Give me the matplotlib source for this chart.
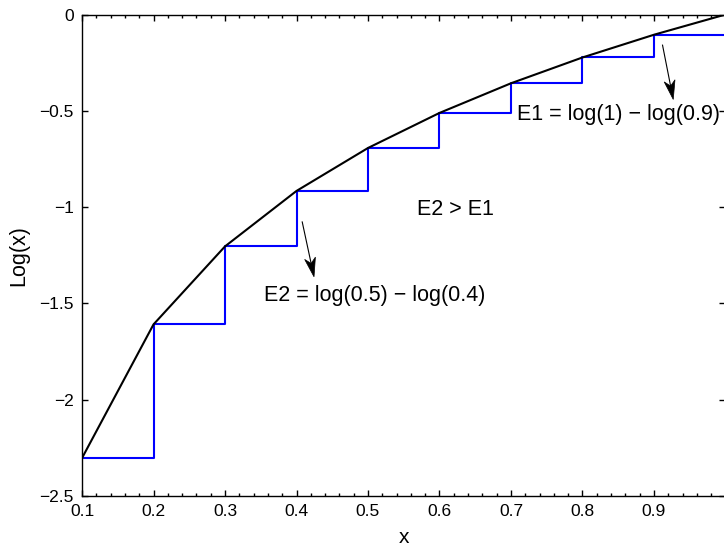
"""Staircase approximation of log(x) with error annotations."""
import matplotlib
matplotlib.use('Agg')
import matplotlib.pyplot as plt
import numpy as np
from matplotlib.patches import Polygon

# values
x_vals = [0.1, 0.2, 0.3, 0.4, 0.5, 0.6, 0.7, 0.8, 0.9, 1.0]
log_vals = [-2.303, -1.609, -1.204, -0.916, -0.693, -0.511, -0.357, -0.223, -0.105, 0.0]

x_ticks = [0.1, 0.2, 0.3, 0.4, 0.5, 0.6, 0.7, 0.8, 0.9, 1.0]
x_tick_labels = ['0.1', '0.2', '0.3', '0.4', '0.5', '0.6', '0.7', '0.8', '0.9', '']
y_ticks = [-2.5, -2.0, -1.5, -1.0, -0.5, 0.0]
y_tick_labels = ['\u22122.5', '\u22122', '\u22121.5', '\u22121', '\u22120.5', '0']

# annotation text and arrows (data coords)
notes = ['E1 = log(1) \u2212 log(0.9)', 'E2 > E1', 'E2 = log(0.5) \u2212 log(0.4)']
note_x = [0.709, 0.568, 0.355]
note_y = [-0.549, -1.042, -1.487]
arrow_tails = [(0.912, -0.159), (0.408, -1.077)]
arrow_tips = [(0.927, -0.441), (0.4245, -1.362)]

plt.rcParams['font.family'] = ['Liberation Sans', 'DejaVu Sans']

fig = plt.figure(figsize=(7.24, 5.46), dpi=100)
ax = fig.add_axes([0.1133, 0.0916, 0.8887, 0.8818])

ax.step(x_vals, log_vals, where='post', color='#0000ff', lw=1.5)
ax.plot(x_vals, log_vals, color='black', lw=1.5)

ax.set_xlim(0.1, 1.0)
ax.set_ylim(-2.5, 0)
ax.set_xticks(x_ticks)
ax.set_xticklabels(x_tick_labels)
ax.set_xticks([0.1 + 0.02 * i for i in range(46)], minor=True)
ax.set_yticks(y_ticks)
ax.set_yticklabels(y_tick_labels)

ax.tick_params(which='both', direction='in', top=True, right=True,
               labelsize=12.5, width=1.0)
ax.tick_params(which='major', length=4.5)
ax.tick_params(which='minor', length=2.4)
ax.tick_params(axis='x', pad=6)
ax.tick_params(axis='y', pad=6)
for s in ax.spines.values():
    s.set_linewidth(1.0)

ax.set_xlabel('x', fontsize=15, labelpad=6)
ax.set_ylabel('Log(x)', fontsize=15.5, labelpad=7)

for txt, tx, ty in zip(notes, note_x, note_y):
    ax.text(tx, ty, txt, fontsize=15.5, va='baseline', ha='left')


def notched_arrow(tail, tip, head_len=19, half_w=5.5, notch=0.72):
    # build arrow in pixel space, convert back to data coords
    p0 = ax.transData.transform(tail)
    p1 = ax.transData.transform(tip)
    u = (p1 - p0) / np.hypot(*(p1 - p0))
    n = np.array([-u[1], u[0]])
    base = p1 - u * head_len
    mid = p1 - u * head_len * notch
    inv = ax.transData.inverted()
    shaft = inv.transform(np.array([p0, mid]))
    ax.plot(shaft[:, 0], shaft[:, 1], color='black', lw=0.8, clip_on=False)
    head = inv.transform(np.array([p1, base + n * half_w, mid, base - n * half_w]))
    ax.add_patch(Polygon(head, closed=True, facecolor='black', edgecolor='black',
                         lw=0.5, clip_on=False))


for tail, tip in zip(arrow_tails, arrow_tips):
    notched_arrow(tail, tip)

fig.savefig('out.png', dpi=100)
plt.close(fig)
